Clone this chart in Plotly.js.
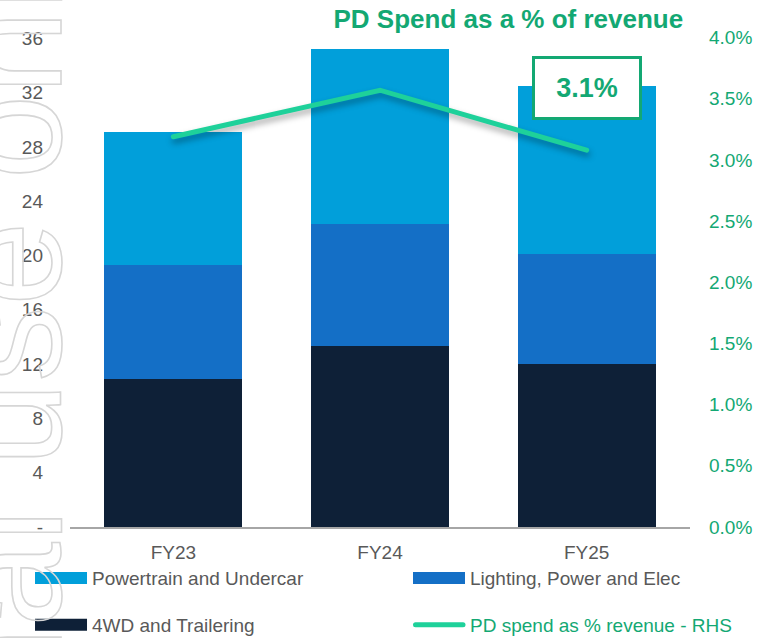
<!DOCTYPE html>
<html>
<head>
<meta charset="utf-8">
<script src="https://cdn.plot.ly/plotly-3.0.1.min.js"></script>
<style>
  html, body { margin: 0; padding: 0; background: #ffffff; }
  #chart { width: 761px; height: 638px; }
  g.annotation[data-index="0"] text.annotation-text {
    fill: none !important;
    stroke: #d6d6d6;
    stroke-width: 1.6px;
  }
  .scatterlayer path.js-line {
    stroke-linecap: round;
    filter: drop-shadow(1px 4px 3px rgba(0,0,0,0.35));
  }
  /* wide legend swatches like the reference */
  g.legendpoints path {
    d: path("M31,6H-21V-6H31Z");
  }
  g.legendlines path {
    d: path("M17.5,0H65");
    stroke-linecap: round;
  }
</style>
</head>
<body>
<div id="chart"></div>
<script>
// ---- data ----
const categories = ['FY23', 'FY24', 'FY25'];
const fourWD = [10.9, 13.3, 12.0];        // 4WD and Trailering
const lighting = [8.4, 9.0, 8.1];         // Lighting, Power and Elec
const powertrain = [9.8, 12.9, 12.4];     // Powertrain and Undercar
const pdSpendPct = [3.19, 3.57, 3.08];    // PD spend as % of revenue (RHS)
const leftTickVals = [0, 4, 8, 12, 16, 20, 24, 28, 32, 36];
const leftTickText = ['-', '4', '8', '12', '16', '20', '24', '28', '32', '36'];

const FONT = '"Liberation Sans", Arial, sans-serif';
const GREEN = '#13A873';
const GREY = '#595959';

const traces = [
  {
    type: 'bar', name: '4WD and Trailering', x: categories, y: fourWD,
    marker: { color: '#0E2037' }, legend: 'legend3'
  },
  {
    type: 'bar', name: 'Lighting, Power and Elec', x: categories, y: lighting,
    marker: { color: '#146FC6' }, legend: 'legend2'
  },
  {
    type: 'bar', name: 'Powertrain and Undercar', x: categories, y: powertrain,
    marker: { color: '#019FDA' }, legend: 'legend'
  },
  {
    type: 'scatter', mode: 'lines',
    name: '<span style="color:' + GREEN + '">PD spend as % revenue - RHS</span>',
    x: categories, y: pdSpendPct, yaxis: 'y2',
    line: { color: '#1ED19A', width: 5 }, legend: 'legend4'
  }
];

function legendAt(x, y) {
  return {
    orientation: 'h', xref: 'container', yref: 'container',
    x: x, xanchor: 'left', y: y, yanchor: 'middle', itemwidth: 62,
    font: { family: FONT, size: 19, color: GREY }, bgcolor: 'rgba(0,0,0,0)'
  };
}

const layout = {
  width: 761, height: 638,
  margin: { l: 70, r: 71, t: 37, b: 111, autoexpand: false },
  paper_bgcolor: '#ffffff', plot_bgcolor: '#ffffff',
  font: { family: FONT, size: 18, color: GREY },
  barmode: 'stack', bargap: 0.333,
  title: {
    text: '<b>PD Spend as a % of revenue</b>',
    font: { family: FONT, size: 26, color: GREEN },
    xref: 'container', yref: 'container',
    x: 0.668, xanchor: 'center', y: 0.971, yanchor: 'middle'
  },
  xaxis: {
    type: 'category',
    showgrid: false, zeroline: false,
    showline: true, linecolor: '#A6A6A6', linewidth: 1.5,
    ticks: '', tickfont: { family: FONT, size: 19, color: GREY },
    ticklabelstandoff: 8
  },
  yaxis: {
    range: [0, 36.1], tickvals: leftTickVals, ticktext: leftTickText,
    showgrid: false, zeroline: false, showline: false, ticks: '',
    tickfont: { family: FONT, size: 19, color: GREY },
    ticklabelstandoff: 26
  },
  yaxis2: {
    overlaying: 'y', side: 'right', range: [0, 4.005], dtick: 0.5,
    tickformat: '.1f', ticksuffix: '%',
    showgrid: false, zeroline: false, showline: false, ticks: '',
    tickfont: { family: FONT, size: 19, color: GREEN },
    ticklabelstandoff: 18
  },
  legend: legendAt(0.0263, 0.094),
  legend2: legendAt(0.523, 0.094),
  legend3: legendAt(0.0263, 0.0204),
  legend4: legendAt(0.523, 0.0204),
  annotations: [
    {
      text: 'For personal use only', textangle: -90,
      xref: 'paper', yref: 'paper', x: -0.0998, y: -0.2122,
      xanchor: 'center', yanchor: 'middle', showarrow: false,
      font: { family: FONT, size: 152, color: '#d6d6d6' }
    },
    {
      text: '<b>' + pdSpendPct[2].toFixed(1) + '%</b>',
      xref: 'x', yref: 'paper', x: categories[2], y: 0.896,
      xanchor: 'center', yanchor: 'middle', showarrow: false,
      width: 102, height: 56, borderpad: 1, borderwidth: 3,
      bordercolor: GREEN, bgcolor: '#ffffff',
      font: { family: FONT, size: 27, color: GREEN }
    }
  ],
  showlegend: true
};

Plotly.newPlot('chart', traces, layout, { displayModeBar: false, staticPlot: true });
</script>
</body>
</html>
